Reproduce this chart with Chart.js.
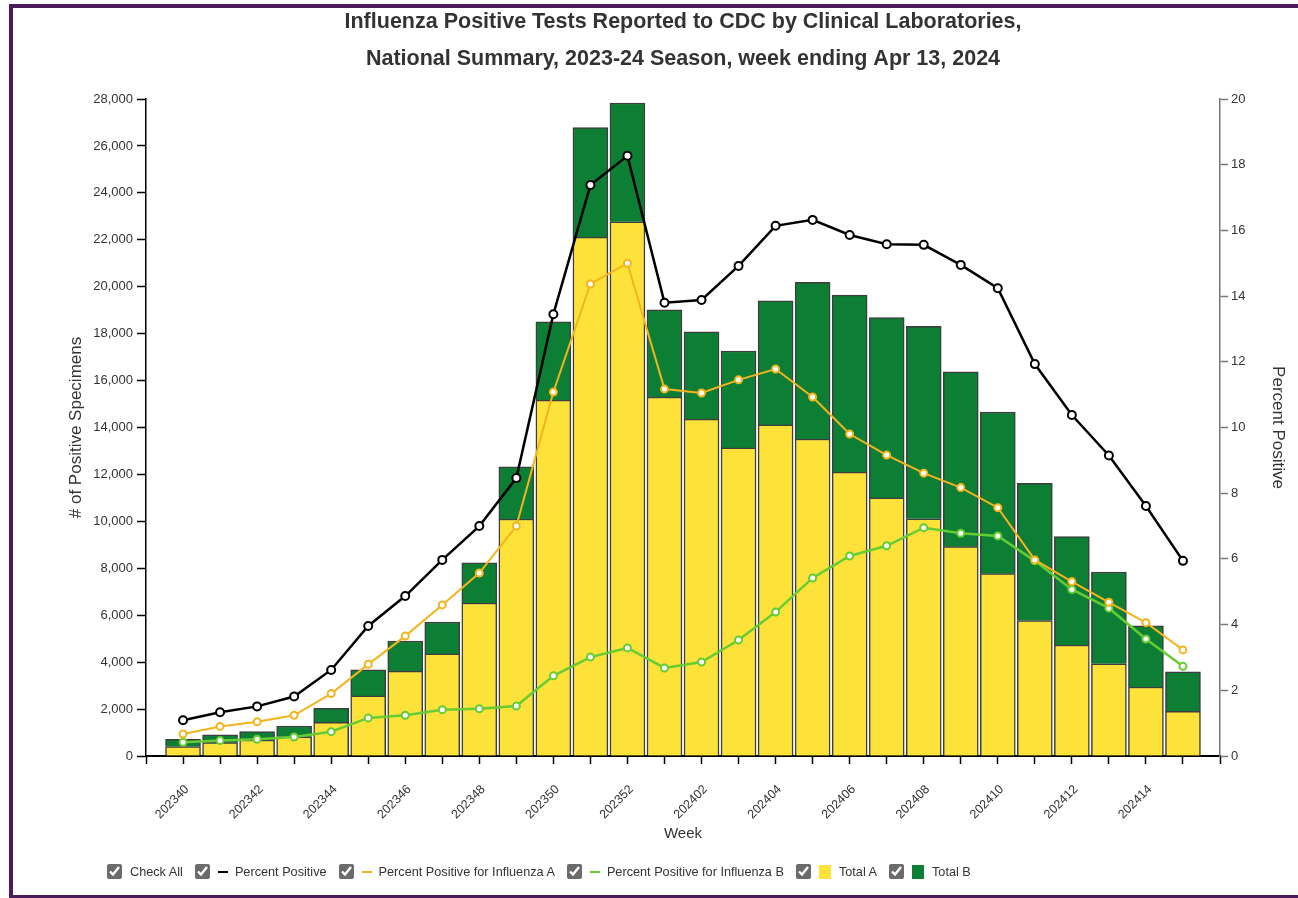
<!DOCTYPE html>
<html>
<head>
<meta charset="utf-8">
<script src="https://cdn.jsdelivr.net/npm/chart.js@4.4.1/dist/chart.umd.min.js"></script>
<style>
  html, body { margin: 0; padding: 0; background: #fff; }
  body { width: 1298px; height: 898px; position: relative; overflow: hidden; font-family: "Liberation Sans", Arial, sans-serif; }
  #wrap { position: absolute; left: 0; top: 0; width: 1298px; height: 850px; }
  #frame { position: absolute; left: 9px; top: 4px; width: 1300px; height: 887px; border-top: 4px solid #4a1c5c; border-left: 4px solid #4a1c5c; border-bottom: 3px solid #4a1c5c; pointer-events: none; }
  #legend { position: absolute; left: 107px; top: 864px; display: flex; align-items: center; font-size: 12.7px; color: #333; }
  #legend .item { display: flex; align-items: center; margin-right: 12px; }
  #legend input { width: 15px; height: 15px; margin: 0 8px 0 0; accent-color: #6b6b6b; }
  #legend .dash { display: inline-block; width: 10px; height: 2px; margin-right: 7px; }
  #legend .box { display: inline-block; width: 12px; height: 14px; margin-right: 8px; }
</style>
</head>
<body>
<div id="wrap"><canvas id="fluChart"></canvas></div>
<div id="frame"></div>
<div id="legend"></div>
<script>
// weeks (MMWR year + week)
const weeks = ['202340', '202341', '202342', '202343', '202344', '202345', '202346', '202347',
  '202348', '202349', '202350', '202351', '202352', '202401', '202402', '202403', '202404',
  '202405', '202406', '202407', '202408', '202409', '202410', '202411', '202412', '202413',
  '202414', '202415'];

// positive specimens
const totalA = [400, 570, 680, 820, 1440, 2560, 3620, 4350, 6520, 10100, 15170, 22110, 22770,
  15300, 14360, 13130, 14110, 13510, 12100, 11000, 10110, 8920, 7770, 5770, 4730, 3930, 2940, 1900];
const totalB = [310, 330, 360, 460, 590, 1110, 1280, 1360, 1710, 2220, 3330, 4670, 5060,
  3710, 3720, 4130, 5290, 6680, 7540, 7680, 8200, 7450, 6890, 5850, 4620, 3910, 2610, 1690];

// percent positive
const pctPositive = [1.09, 1.33, 1.51, 1.81, 2.62, 3.96, 4.87, 5.97, 7.0, 8.46, 13.45, 17.38, 18.27,
  13.8, 13.88, 14.92, 16.14, 16.32, 15.86, 15.58, 15.56, 14.95, 14.24, 11.93, 10.38, 9.15, 7.61, 5.94];
const pctPositiveA = [0.67, 0.9, 1.04, 1.24, 1.9, 2.79, 3.65, 4.6, 5.57, 7.0, 11.08, 14.37, 15.0,
  11.17, 11.05, 11.45, 11.78, 10.93, 9.8, 9.16, 8.61, 8.17, 7.56, 5.97, 5.31, 4.68, 4.06, 3.23];
const pctPositiveB = [0.42, 0.47, 0.51, 0.58, 0.74, 1.16, 1.24, 1.41, 1.44, 1.52, 2.44, 3.01, 3.29,
  2.68, 2.86, 3.53, 4.38, 5.42, 6.09, 6.4, 6.95, 6.78, 6.7, 5.94, 5.07, 4.5, 3.56, 2.73];

const countTicks = [0, 28000, 2000];
const pctTicks = [0, 20, 2];

const FONT = 'Liberation Sans';
const TEXT = '#333';
const YELLOW = '#fde23a';
const GREEN = '#0c7f34';
const ORANGE = '#f3b41f';
const LIME = '#66cc33';

const xy = arr => arr.map((v, i) => ({ x: i, y: v }));

function lineSet(label, values, color, width, radius) {
    return {
        type: 'line',
        label: label,
        data: xy(values),
        yAxisID: 'y1',
        borderColor: color,
        borderWidth: width,
        pointRadius: radius,
        pointBorderWidth: 2,
        pointBackgroundColor: '#fff',
        pointBorderColor: color,
        tension: 0,
        order: 0,
    };
}

function barSet(label, values, color) {
    return {
        type: 'bar',
        label: label,
        data: xy(values),
        yAxisID: 'y',
        backgroundColor: color,
        borderColor: '#3d3d3d',
        borderWidth: 1.5,
        barThickness: 35,
        order: 1,
    };
}

const datasets = [
    lineSet('Percent Positive', pctPositive, '#000', 2.5, 4),
    lineSet('Percent Positive for Influenza A', pctPositiveA, ORANGE, 2, 3.5),
    lineSet('Percent Positive for Influenza B', pctPositiveB, LIME, 2.5, 3.5),
    barSet('Total A', totalA, YELLOW),
    barSet('Total B', totalB, GREEN),
];

const ctx = document.getElementById('fluChart').getContext('2d');
const chart = new Chart(ctx, {
    type: 'bar',
    data: { datasets: datasets },
    options: {
        responsive: true,
        maintainAspectRatio: false,
        animation: false,
        layout: { padding: 0 },
        plugins: {
            legend: { display: false },
            tooltip: { enabled: false },
            title: {
                display: true,
                fullSize: false,
                text: ['Influenza Positive Tests Reported to CDC by Clinical Laboratories,',
                       'National Summary, 2023-24 Season, week ending Apr 13, 2024'],
                color: TEXT,
                font: { family: FONT, size: 21.5, weight: 'bold', lineHeight: 37 / 21.5 },
                padding: { top: 4, bottom: 21 },
            },
        },
        scales: {
            x: {
                type: 'linear',
                stacked: true,
                min: -1,
                max: weeks.length,
                offset: false,
                afterFit: s => { s.height = 94; },
                grid: { offset: false, drawOnChartArea: false, tickLength: 8, color: '#000', tickWidth: 1.5 },
                border: { display: true, color: '#000', width: 2 },
                ticks: {
                    stepSize: 1,
                    autoSkip: false,
                    maxRotation: 45,
                    minRotation: 45,
                    padding: 18,
                    labelOffset: 4,
                    color: TEXT,
                    font: { family: FONT, size: 12.5 },
                    callback: v => (v >= 0 && v < weeks.length && v % 2 === 0) ? weeks[v] : '',
                },
                title: {
                    display: true, text: 'Week', color: TEXT,
                    font: { family: FONT, size: 15 },
                    padding: { top: 0, bottom: 7 },
                },
            },
            y: {
                position: 'left',
                stacked: true,
                min: countTicks[0],
                max: countTicks[1],
                afterFit: s => { s.width = 146; },
                grid: { drawOnChartArea: false, tickLength: 9, color: '#000', tickWidth: 1.5 },
                border: { display: true, color: '#000', width: 1.5 },
                ticks: {
                    stepSize: countTicks[2],
                    padding: 4,
                    color: TEXT,
                    font: { family: FONT, size: 13 },
                    callback: v => v.toLocaleString('en-US'),
                },
                title: {
                    display: true, text: '# of Positive Specimens', color: TEXT,
                    font: { family: FONT, size: 17 },
                    padding: { top: 66.5, bottom: 0 },
                },
            },
            y1: {
                position: 'right',
                min: pctTicks[0],
                max: pctTicks[1],
                afterFit: s => { s.width = 78; },
                grid: { drawOnChartArea: false, tickLength: 8, color: '#777', tickWidth: 1.5 },
                border: { display: true, color: '#777', width: 1.5 },
                ticks: {
                    stepSize: pctTicks[2],
                    padding: 3,
                    color: TEXT,
                    font: { family: FONT, size: 13 },
                },
                title: {
                    display: true, text: 'Percent Positive', color: TEXT,
                    font: { family: FONT, size: 17 },
                    padding: { top: 10.5, bottom: 0 },
                },
            },
        },
    },
});

// checkbox legend under the chart
const legendItems = [
    { label: 'Check All' },
    { label: 'Percent Positive', dash: '#000' },
    { label: 'Percent Positive for Influenza A', dash: ORANGE },
    { label: 'Percent Positive for Influenza B', dash: LIME },
    { label: 'Total A', box: YELLOW },
    { label: 'Total B', box: GREEN },
];
const legendEl = document.getElementById('legend');
legendItems.forEach(item => {
    const div = document.createElement('div');
    div.className = 'item';
    const cb = document.createElement('input');
    cb.type = 'checkbox';
    cb.checked = true;
    div.appendChild(cb);
    if (item.dash || item.box) {
        const sw = document.createElement('span');
        sw.className = item.dash ? 'dash' : 'box';
        sw.style.background = item.dash || item.box;
        div.appendChild(sw);
    }
    const txt = document.createElement('span');
    txt.textContent = item.label;
    div.appendChild(txt);
    legendEl.appendChild(div);
});
</script>
</body>
</html>
